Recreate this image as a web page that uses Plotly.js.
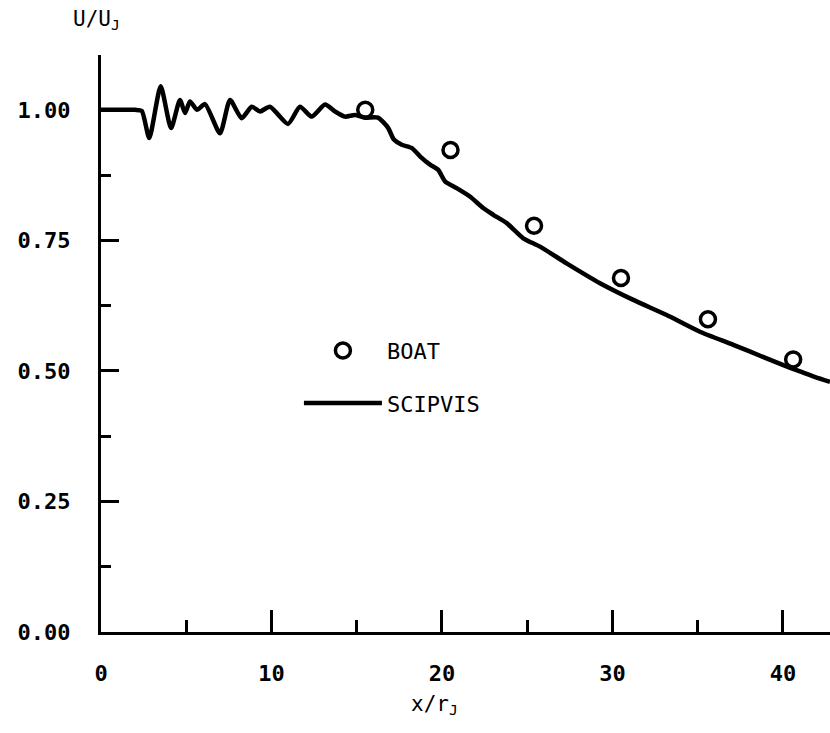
<!DOCTYPE html>
<html>
<head>
<meta charset="utf-8">
<script src="https://cdn.plot.ly/plotly-3.0.1.min.js"></script>
<style>html,body{margin:0;padding:0;background:#fff;}#chart{width:830px;height:733px;}</style>
</head>
<body>
<div id="chart"></div>
<script>
// SCIPVIS computed centerline velocity
const xScipvis = [0, 1.2, 2.0, 2.39, 2.83, 3.50, 4.11, 4.63, 4.93, 5.22, 5.63, 6.10, 6.98, 7.57, 8.25, 8.84, 9.33, 9.91,
  10.97, 11.67, 12.36, 13.14, 13.72, 14.31, 14.90, 15.48, 16.25, 16.83, 17.18, 17.64, 18.22, 18.71, 19.30,
  19.78, 20.18, 20.86, 21.64, 22.42, 23.01, 23.80, 24.77, 25.75, 27.31, 29.27, 31.22, 33.18, 35.13, 37.09,
  39.04, 40.02, 41.00, 41.90, 42.76];
const yScipvis = [1.0, 1.0, 1.0, 0.998, 0.946, 1.045, 0.965, 1.019, 0.994, 1.016, 1.0, 1.011, 0.955, 1.019, 0.984, 1.006, 0.997, 1.006,
  0.973, 1.006, 0.987, 1.010, 0.997, 0.987, 0.990, 0.985, 0.985, 0.966, 0.943, 0.933, 0.927, 0.911, 0.895,
  0.885, 0.863, 0.850, 0.834, 0.812, 0.799, 0.783, 0.754, 0.738, 0.706, 0.668, 0.636, 0.607, 0.575, 0.550,
  0.524, 0.511, 0.499, 0.488, 0.479];
// BOAT data points
const xBoat = [15.5, 20.5, 25.4, 30.5, 35.6, 40.6];
const yBoat = [1.0, 0.923, 0.778, 0.678, 0.599, 0.522];
// tick labels
const xTickVals = [0, 10, 20, 30, 40];
const xTickText = ['0', '10', '20', '30', '40'];
const yTickVals = [0, 0.25, 0.5, 0.75, 1.0];
const yTickText = ['0.00', '0.25', '0.50', '0.75', '1.00'];

const MONO = 'DejaVu Sans Mono, monospace';

const traces = [
  {x: xBoat, y: yBoat, name: 'BOAT', type: 'scatter', mode: 'markers', legendgroup: 'a',
   marker: {symbol: 'circle-open', size: 15, color: '#000', line: {width: 3.5, color: '#000'}}},
  {x: xScipvis, y: yScipvis, name: 'SCIPVIS', type: 'scatter', mode: 'lines', legendgroup: 'b',
   line: {color: '#000', width: 4.5, shape: 'spline', smoothing: 0.6}}
];

const axisCommon = {
  showline: true, linewidth: 3, linecolor: '#000', mirror: false,
  ticks: 'inside', tickwidth: 3, tickcolor: '#000',
  showgrid: false, zeroline: false, fixedrange: true,
  tickfont: {family: MONO, size: 22, color: '#000', weight: 'bold'}
};

const layout = {
  width: 830, height: 733,
  margin: {l: 101, r: 0, t: 55, b: 101},
  paper_bgcolor: '#fff', plot_bgcolor: '#fff',
  showlegend: true,
  legend: {x: 0.2715, y: 0.524, xanchor: 'left', yanchor: 'top', bgcolor: 'rgba(0,0,0,0)',
           itemwidth: 78, tracegroupgap: 21, traceorder: 'grouped',
           font: {family: MONO, size: 22, color: '#000'}},
  xaxis: Object.assign({}, axisCommon, {
    range: [0, 42.76], tickvals: xTickVals, ticktext: xTickText, ticklen: 22,
    ticklabelstandoff: 20,
    minor: {tickvals: [5, 15, 25, 35], ticks: 'inside', ticklen: 12, tickwidth: 3, tickcolor: '#000', showgrid: false}
  }),
  yaxis: Object.assign({}, axisCommon, {
    range: [0, 1.105], tickvals: yTickVals, ticktext: yTickText, ticklen: 18,
    ticklabelstandoff: 23,
    minor: {tickvals: [0.125, 0.375, 0.625, 0.875], ticks: 'inside', ticklen: 10, tickwidth: 3, tickcolor: '#000', showgrid: false}
  }),
  annotations: [
    {text: 'U/U<sub>J</sub>', xref: 'paper', yref: 'paper', x: -0.006, y: 1.061,
     xanchor: 'center', yanchor: 'middle', showarrow: false,
     font: {family: MONO, size: 21, color: '#000'}},
    {text: 'x/r<sub>J</sub>', xref: 'paper', yref: 'paper', x: 0.458, y: -0.1265,
     xanchor: 'center', yanchor: 'middle', showarrow: false,
     font: {family: MONO, size: 21, color: '#000'}}
  ]
};

Plotly.newPlot('chart', traces, layout, {displayModeBar: false, staticPlot: true});
</script>
</body>
</html>
